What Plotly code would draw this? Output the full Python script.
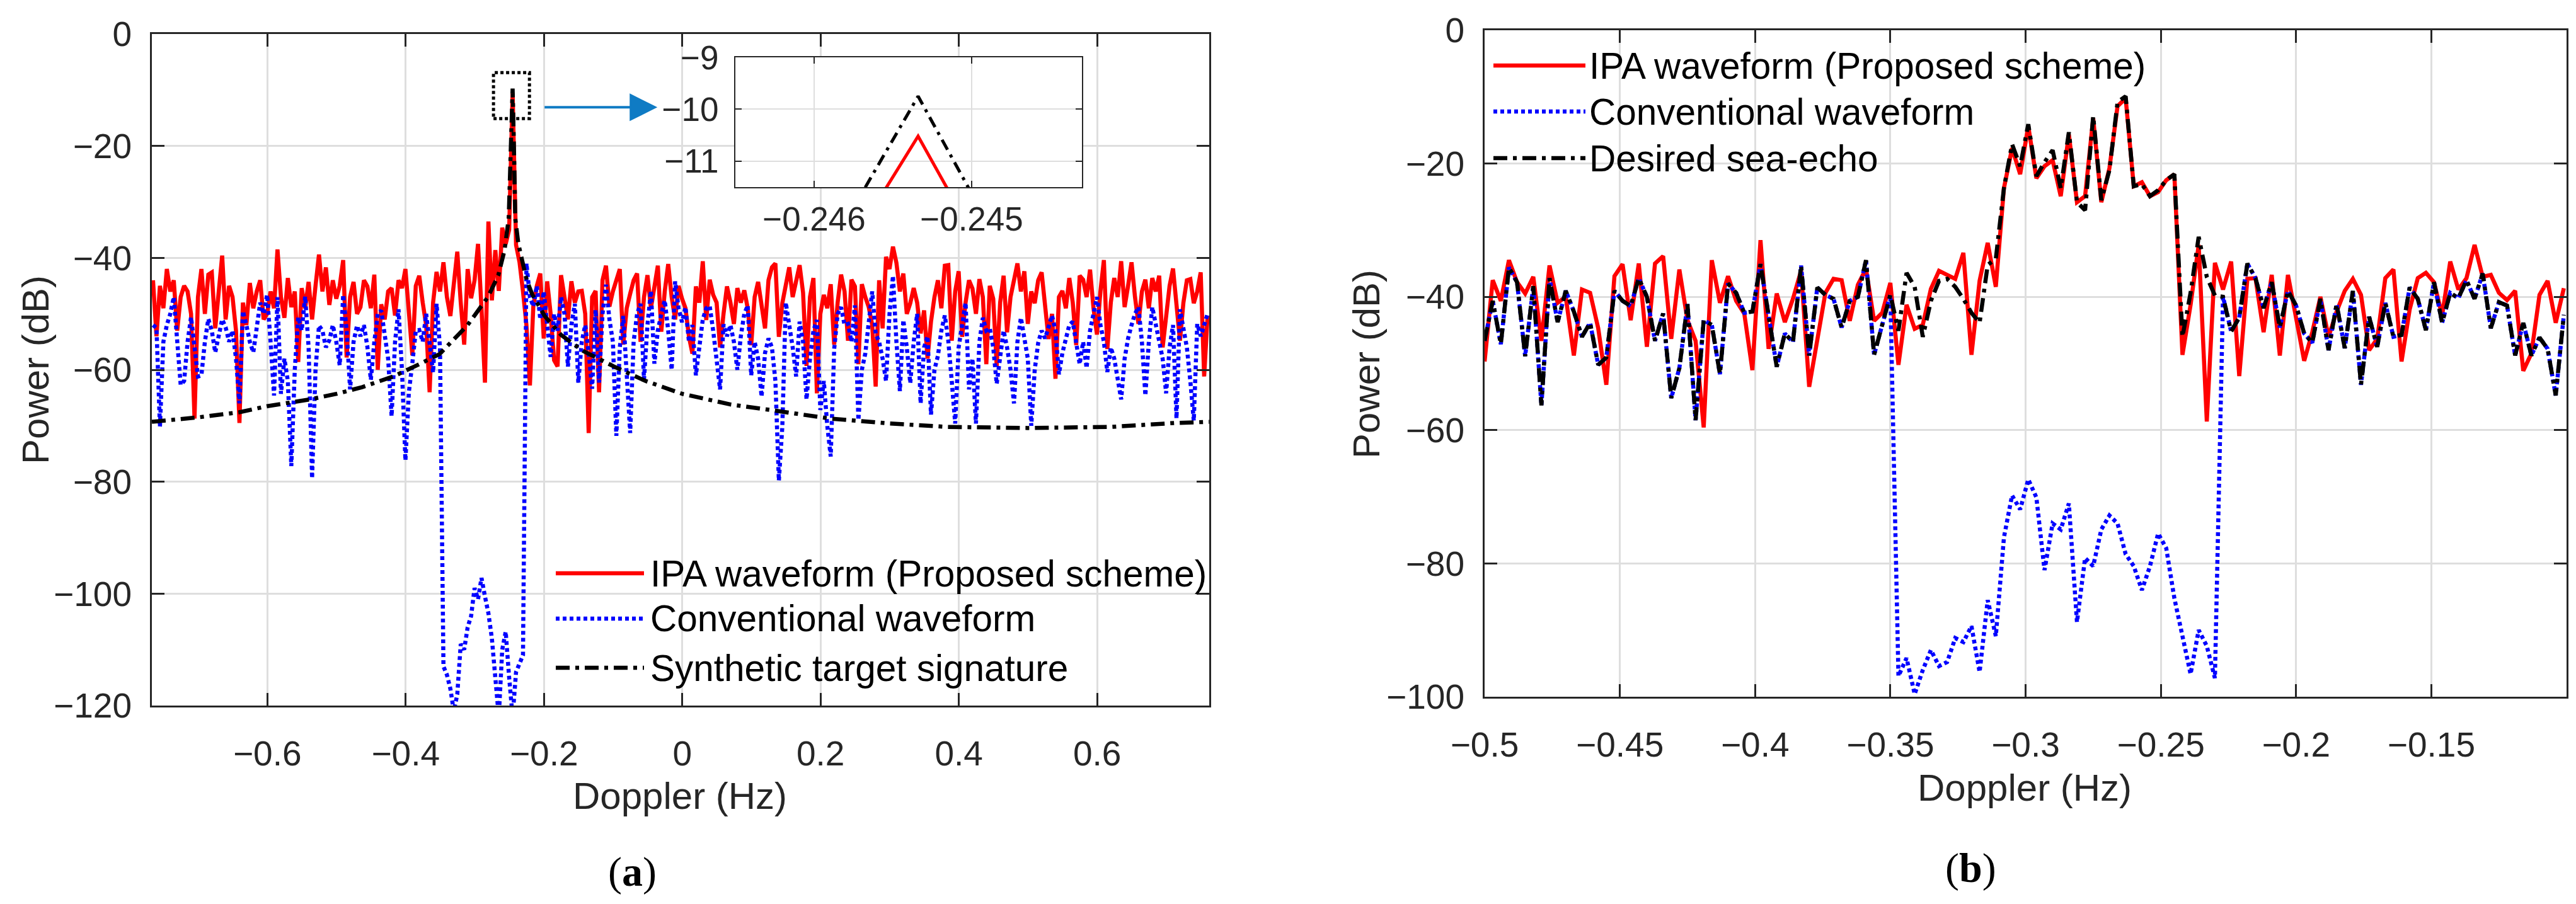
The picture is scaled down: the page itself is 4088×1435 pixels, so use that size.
import numpy as np
import plotly.graph_objects as go

#------------------------------------------------------------------------------#
#     figure (a): full Doppler spectrum, bins every 0.005 Hz                   #
#------------------------------------------------------------------------------#
A_F0 = -0.76534
A_DF = 0.005
A_NBINS = 306
A_DOPPLER = np.round(A_F0 + A_DF * np.arange(A_NBINS), 5)

A_IPA = [
    -44, -54, -45, -49, -42, -46, -44, -53, -47, -45,
    -46, -50, -68.7, -47, -42, -50, -43, -42.6, -52.6, -45,
    -39.6, -51, -45, -47, -53, -69.5, -48, -52, -44.5, -49,
    -46, -44, -51, -50, -46, -49, -38.5, -47, -50.7, -43.6,
    -48.8, -46, -58.6, -45.4, -49, -44.3, -51, -45, -39.4, -46,
    -41.7, -48.4, -44, -47.3, -45, -40.4, -57.8, -47, -44.3, -50,
    -48.8, -44, -45.1, -49, -43, -60, -48.3, -51, -46, -45.4,
    -50.3, -44, -45.4, -42, -49, -57.4, -45, -43.2, -48, -52,
    -64, -48, -42.5, -46, -40.8, -47, -50.4, -44, -38.9, -48,
    -55.5, -42, -47.2, -44, -37.5, -49, -62.3, -33.5, -47.6, -38.6,
    -45.9, -34.6, -37.5, -35, -10.52, -37.7, -40.8, -46, -52, -62.8,
    -48.5, -45, -42.8, -54.4, -44.2, -50, -58.3, -59.4, -43.1, -47,
    -51, -44.2, -48, -46, -45.9, -50, -71.3, -47, -45.9, -64,
    -44, -41.4, -48.7, -46, -44, -42, -55.5, -49, -46.4, -44,
    -42.8, -55, -47, -43.1, -49, -45, -41.4, -53.2, -46, -41.1,
    -47, -51, -45, -47.3, -49, -54.1, -57.1, -45.1, -48, -40.6,
    -51.1, -43.9, -46.6, -48, -56, -50, -45.1, -48, -51.8, -45.4,
    -48, -45.8, -49, -55.6, -47, -44.3, -48, -52.6, -44, -41.7,
    -41, -54.1, -48.1, -45, -41.7, -47, -44, -41.3, -46.2, -59.3,
    -47, -43.6, -64.2, -50, -46.6, -49, -44.7, -55.5, -48, -43,
    -46, -54.8, -43.9, -45.1, -59, -44.7, -47, -48.8, -52, -63,
    -44, -52.6, -39.8, -42, -38, -40.9, -46, -42.8, -50, -48.1,
    -45.4, -48, -53.5, -49.4, -58, -51.4, -47, -44, -49, -41.4,
    -41.3, -54.8, -46, -42.4, -54.1, -48, -44, -45.5, -50, -43.8,
    -47, -59, -45, -47.3, -59.3, -48, -43.2, -53.3, -47, -44,
    -41, -46, -42.4, -51.8, -46, -48.1, -44, -42.6, -48, -54.5,
    -50, -61.6, -47, -45.9, -49, -43.6, -48, -55.6, -43.2, -43.9,
    -47, -42.1, -49, -53.7, -46, -40.4, -56.3, -48, -43.6, -47,
    -40.6, -48.8, -45, -40.8, -47, -51.8, -46, -43.9, -49, -43.6,
    -46, -43.2, -56, -50, -45, -41.9, -48.8, -54.8, -48, -44,
    -43.8, -48.1, -46, -42.6, -61.2, -50.3,
]

A_CONV = [
    -52, -52.5, -70.2, -55, -52, -50, -47, -55, -62.7, -62,
    -55, -50.6, -56, -61.2, -61, -55, -50.9, -53, -56.9, -54,
    -51, -52.4, -55, -53, -58, -66, -49.5, -52, -55, -56.9,
    -52, -48, -50, -46.6, -55, -64.6, -47, -64.3, -58, -62,
    -77.2, -60, -50.6, -53, -46.9, -56, -79.4, -60, -52.1, -53,
    -56, -54.7, -52, -55, -59.2, -46.6, -53, -63.5, -55, -52.1,
    -54, -52, -55.9, -61.8, -55, -50, -49.4, -54, -58, -68.3,
    -55, -49.2, -60, -76.2, -64, -58.8, -53, -52.9, -55, -50,
    -56, -60.5, -48.2, -56, -113, -114.5, -117, -121, -118, -109,
    -110, -106, -104, -99, -101, -97.2, -100.5, -103.5, -108, -114,
    -122, -110, -106.8, -115, -122, -114, -112.5, -111, -41, -47,
    -48.7, -45, -51, -46, -52, -57.7, -50, -53, -47, -50,
    -59.4, -52, -48.2, -62.3, -55, -52, -57, -63.4, -49.3, -62.3,
    -50, -44.8, -51, -55, -71.8, -56, -50.4, -62, -71.3, -55,
    -50, -48.2, -61.7, -52, -45.9, -58.9, -53, -50, -47.6, -53,
    -60, -44.2, -49, -51.5, -48.8, -55, -52, -61, -56, -51,
    -49, -48.6, -53, -58, -63.5, -51.9, -54, -52, -55, -60,
    -54, -50, -48.5, -61, -55, -58, -64.8, -57, -54.4, -56,
    -62, -79.8, -70.2, -48, -52, -56, -61.2, -51.4, -55, -65.3,
    -58, -53, -51.1, -67.2, -62, -70, -75.5, -56.3, -50, -48.8,
    -52, -51.8, -55, -48.5, -69, -60, -57.1, -52, -46, -53.6,
    -55, -58, -62, -50, -43.2, -55, -63.8, -51.1, -56, -62.4,
    -55, -50, -66, -56, -54, -68, -60, -57.5, -53, -50.3,
    -54.8, -62, -69.6, -56, -52, -48, -63.5, -58, -69.6, -55,
    -50.7, -53, -52.6, -56, -62.5, -57, -53, -56, -60, -66,
    -55, -50.7, -54, -58, -70, -60, -55.2, -53, -54.4, -52,
    -50.3, -53, -60.8, -57, -54.8, -52, -51.4, -55, -59, -55,
    -59.7, -53, -50, -47, -52, -55, -60.4, -56, -58, -62,
    -65.3, -58, -54.4, -52, -50, -48.8, -55, -64.6, -55, -48.8,
    -52, -55, -58, -64.2, -56, -52, -68.7, -49.2, -53, -56,
    -62, -69.1, -51.8, -54, -52, -50,
]

A_TARGET_HZ = [-0.767, -0.70, -0.641, -0.60, -0.539, -0.50, -0.463, -0.418,
               -0.387, -0.351, -0.311, -0.281, -0.266, -0.257, -0.251,
               -0.2473, -0.24534, -0.2433, -0.2415, -0.237, -0.232, -0.225,
               -0.217, -0.199, -0.175, -0.144, -0.099, -0.053, 0.0, 0.07,
               0.14, 0.213, 0.252, 0.30, 0.383, 0.50, 0.621, 0.712, 0.762]
A_TARGET_DB = [-69.3, -68.5, -67.6, -66.5, -65.3, -64.3, -63.1, -61.2,
               -59.4, -57.2, -52.1, -47, -43.1, -38.6, -33,
               -20, -9.75, -21, -33, -37.5, -40.3, -44,
               -46.5, -50.4, -53.8, -56.6, -59.4, -62, -64.3, -66.2,
               -67.4, -68.7, -69.1, -69.6, -70.2, -70.4, -70.2, -69.5, -69.3]

#------------------------------------------------------------------------------#
#     figure (b): zoom on the sea-echo band, bins every 0.003 Hz               #
#------------------------------------------------------------------------------#
B_F0 = -0.5
B_DF = 0.003
B_NBINS = 134
B_DOPPLER = np.round(B_F0 + B_DF * np.arange(B_NBINS), 4)

B_IPA = [
    -49.7, -37.5, -40.6, -34.5, -37.8, -39.5, -37.0, -46.6, -35.3, -40.9,
    -40, -48.8, -38.9, -39.4, -44.7, -53.2, -36.9, -35.1, -43.5, -35,
    -47.5, -35, -33.9, -46.3, -35.9, -43.5, -46.6, -59.6, -34.5, -40.9,
    -36.9, -40.6, -42.5, -51, -31.5, -47.8, -39.5, -43.8, -40.3, -36.1,
    -53.5, -46.6, -39.4, -37.3, -37.5, -43.6, -38.2, -35.8, -43.6, -42.4,
    -37.9, -50.2, -41.2, -44.8, -44.2, -38.8, -36.1, -36.7, -37.3, -33.4,
    -48.7, -37.6, -31.9, -38.5, -23.7, -17.7, -21.6, -14.4, -22.2, -20.4,
    -19.5, -24.9, -15.6, -25.8, -24.9, -13.2, -25.8, -20.7, -11.4, -10.2,
    -23.4, -22.8, -24.9, -24.3, -22.5, -21.6, -48.7, -41.2, -32.2, -58.7,
    -34.9, -38.9, -34.7, -51.9, -37.3, -37.2, -45.3, -36.7, -48.8, -36.7,
    -43.5, -49.6, -45.3, -40, -46, -42.2, -39.1, -37.3, -39.7, -48,
    -46.3, -37.2, -35.9, -49.7, -41.9, -37.2, -36.4, -37.8, -42.8, -34.7,
    -38.9, -37.2, -32.2, -37, -36.7, -39.4, -40.5, -39.1, -51.1, -48.5,
    -39.7, -37.6, -43.9, -38.7,
]

B_SEA = [
    -46.6, -40.6, -47.1, -35.6, -37.8, -48.9, -38.4, -56.3, -37.2, -43.8,
    -39.1, -42.2, -46, -43.9, -50.2, -49.1, -39.1, -40.6, -41.4, -37.2,
    -40, -46.6, -42.5, -55.2, -50.7, -41.1, -58.5, -43.5, -44.2, -51.6,
    -38, -39.4, -42.4, -42.2, -35.1, -42.8, -50.5, -45.5, -46.8, -35.3,
    -48.8, -38.6, -39.7, -40.3, -44.6, -40.6, -40, -34.5, -48.7, -44.2,
    -39.7, -45.1, -36.4, -38.5, -46, -40.6, -37.6, -37.3, -38.5, -40.3,
    -42.4, -43.9, -35.2, -34.3, -23.7, -17.1, -20.4, -14.1, -21.9, -19.8,
    -18, -23.7, -15.3, -25.8, -27, -12.9, -25.5, -21, -10.8, -9.9,
    -23.4, -23.1, -24.9, -24, -22.5, -21.6, -46, -39.4, -31, -37,
    -39.8, -40, -45.2, -43.1, -35, -37.2, -41.7, -37.8, -44.6, -39.1,
    -41.3, -45.5, -46.9, -40.3, -48, -41.1, -47.7, -39.1, -53.2, -43,
    -47.5, -40.9, -46, -45.7, -38.6, -40.3, -45, -37.8, -43.9, -39.4,
    -40.2, -37.5, -40.3, -36.5, -44.7, -40.8, -41.3, -48.8, -43.9, -48.8,
    -46.1, -47.8, -54.8, -42.7,
]

# conventional waveform: same as sea echo outside the notch (bins 51..90)
B_NOTCH_START = 51
B_CONV_NOTCH = [
    -96.9, -94.2, -99.6, -96, -93, -95.4, -94.8, -91.2, -91.8, -89.4,
    -96.3, -85.5, -90.9, -76.1, -69.8, -71.9, -67.4, -70.1, -81, -74,
    -74.9, -71, -88.8, -79.2, -80.4, -74.9, -72.8, -74, -78.6, -80.4,
    -84, -80.4, -75.5, -77.7, -85.2, -90.6, -96.6, -90, -92.4, -97.2,
]
B_CONV = (B_SEA[:B_NOTCH_START] + B_CONV_NOTCH
          + B_SEA[B_NOTCH_START + len(B_CONV_NOTCH):])

#------------------------------------------------------------------------------#
#     styling                                                                  #
#------------------------------------------------------------------------------#
W, H = 4088, 1435
FONT = 'Liberation Sans'
AX_COL = '#262626'
GRID_COL = '#dedede'
RED = '#ff0000'
BLUE = '#0000ff'
LW = 6.5
DOT = '6px,5px'
DASHDOT = '22px,9px,6px,9px'


def px_x(p):
    return p / W


def px_y(p):
    return 1 - p / H


fig = go.Figure()

# (a) main
fig.add_trace(go.Scatter(x=A_DOPPLER, y=A_IPA, mode='lines',
                         line=dict(color=RED, width=LW), xaxis='x', yaxis='y'))
fig.add_trace(go.Scatter(x=A_DOPPLER, y=A_CONV, mode='lines',
                         line=dict(color=BLUE, width=LW, dash=DOT),
                         xaxis='x', yaxis='y'))
fig.add_trace(go.Scatter(x=A_TARGET_HZ, y=A_TARGET_DB, mode='lines',
                         line=dict(color='black', width=LW, dash=DASHDOT),
                         xaxis='x', yaxis='y'))
# (b)
fig.add_trace(go.Scatter(x=B_DOPPLER, y=B_IPA, mode='lines',
                         line=dict(color=RED, width=LW), xaxis='x2', yaxis='y2'))
fig.add_trace(go.Scatter(x=B_DOPPLER, y=B_CONV, mode='lines',
                         line=dict(color=BLUE, width=LW, dash=DOT),
                         xaxis='x2', yaxis='y2'))
fig.add_trace(go.Scatter(x=B_DOPPLER, y=B_SEA, mode='lines',
                         line=dict(color='black', width=LW, dash=DASHDOT),
                         xaxis='x2', yaxis='y2'))
# (a) inset around the peak
fig.add_trace(go.Scatter(x=A_DOPPLER, y=A_IPA, mode='lines',
                         line=dict(color=RED, width=5), xaxis='x3', yaxis='y3'))
fig.add_trace(go.Scatter(x=A_TARGET_HZ, y=A_TARGET_DB, mode='lines',
                         line=dict(color='black', width=5, dash='18px,9px,5px,9px'),
                         xaxis='x3', yaxis='y3'))

axis_common = dict(
    automargin=False,
    showline=True, mirror='allticks', linecolor=AX_COL, linewidth=3,
    ticks='inside', ticklen=20, tickwidth=3, tickcolor=AX_COL,
    showgrid=True, gridcolor=GRID_COL, gridwidth=3, zeroline=False,
    tickfont=dict(family=FONT, size=55, color=AX_COL),
)

fig.update_layout(
    width=W, height=H,
    margin=dict(l=0, r=0, t=0, b=0, autoexpand=False),
    paper_bgcolor='white', plot_bgcolor='white',
    showlegend=False,
    xaxis=dict(axis_common, domain=[px_x(233), px_x(1911)], anchor='y',
               range=[-0.767, 0.762], tickvals=[-0.6, -0.4, -0.2, 0, 0.2, 0.4, 0.6],
               ticklabelstandoff=26),
    yaxis=dict(axis_common, domain=[px_y(1112), px_y(46)], anchor='x',
               range=[-120, 0], dtick=20, ticklabelstandoff=18),
    xaxis2=dict(axis_common, domain=[px_x(2348), px_x(4065)], anchor='y2',
                range=[-0.5, -0.1], tickvals=[-0.5, -0.45, -0.4, -0.35, -0.3, -0.25, -0.2, -0.15],
                ticklabelstandoff=26),
    yaxis2=dict(axis_common, domain=[px_y(1098), px_y(40)], anchor='x2',
                range=[-100, 0], dtick=20, ticklabelstandoff=18),
    xaxis3=dict(axis_common, domain=[px_x(1159), px_x(1709)], anchor='y3',
                range=[-0.2465, -0.2443], tickvals=[-0.246, -0.245],
                linewidth=2, ticklen=10, tickwidth=2, gridwidth=2,
                tickfont=dict(family=FONT, size=53, color=AX_COL),
                ticklabelstandoff=3),
    yaxis3=dict(axis_common, domain=[px_y(289), px_y(83)], anchor='x3',
                range=[-11.5, -9], tickvals=[-11, -10, -9],
                linewidth=2, ticklen=10, tickwidth=2, gridwidth=2,
                tickfont=dict(family=FONT, size=53, color=AX_COL),
                ticklabelstandoff=14),
)

#------------------------------------------------------------------------------#
#     peak marker box + arrow to the inset                                     #
#------------------------------------------------------------------------------#
fig.add_shape(type='rect', xref='x', yref='y', x0=-0.273, x1=-0.221,
              y0=-15.1, y1=-6.9, line=dict(color='black', width=5, dash='5px,4px'))
fig.add_annotation(x=-0.036, y=-13.1, ax=-0.2005, ay=-13.1, xref='x', yref='y',
                   axref='x', ayref='y', text='', showarrow=True, arrowhead=2,
                   arrowsize=2.2, arrowwidth=4, arrowcolor='#0f7bc4')

#------------------------------------------------------------------------------#
#     axis titles, legends, captions                                           #
#------------------------------------------------------------------------------#
def label(text, x, y, size=60, angle=0, xanchor='center', family=FONT, color=AX_COL):
    fig.add_annotation(text=text, x=px_x(x), y=px_y(y), xref='paper', yref='paper',
                       showarrow=False, textangle=angle, xanchor=xanchor,
                       yanchor='middle', font=dict(family=family, size=size, color=color))


label('Doppler (Hz)', 1071, 1255)
label('Power (dB)', 48, 579, angle=-90)
label('Doppler (Hz)', 3205, 1242)
label('Power (dB)', 2160, 570, angle=-90)
label('(<b>a</b>)', 995, 1376, size=66, family='Liberation Serif', color='black')
label('(<b>b</b>)', 3119, 1370, size=66, family='Liberation Serif', color='black')

LEGEND_NAMES_A = ['IPA waveform (Proposed scheme)', 'Conventional waveform',
                  'Synthetic target signature']
LEGEND_NAMES_B = ['IPA waveform (Proposed scheme)', 'Conventional waveform',
                  'Desired sea-echo']
legend_styles = [dict(color=RED, width=LW), dict(color=BLUE, width=LW, dash=DOT),
                 dict(color='black', width=LW, dash=DASHDOT)]


def legend(names, x0, x1, xt, rows):
    for name, style, yrow in zip(names, legend_styles, rows):
        fig.add_shape(type='line', xref='paper', yref='paper',
                      x0=px_x(x0), x1=px_x(x1), y0=px_y(yrow), y1=px_y(yrow),
                      line=style)
        label(name, xt, yrow, size=58.5, xanchor='left', color='black')


legend(LEGEND_NAMES_A, 874, 1014, 1022, [902, 974, 1052])
legend(LEGEND_NAMES_B, 2362, 2508, 2512, [96, 169, 243])

fig.write_html("out.html")
